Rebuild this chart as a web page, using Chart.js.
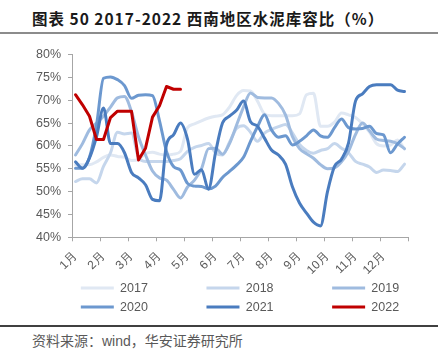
<!DOCTYPE html>
<html><head><meta charset="utf-8">
<script src="https://cdn.jsdelivr.net/npm/chart.js@4.4.1/dist/chart.umd.min.js"></script>
<style>
html,body{margin:0;padding:0;background:#fff;}
body{width:438px;height:363px;position:relative;overflow:hidden;font-family:"Liberation Sans",Arial,sans-serif;}
#title{position:absolute;left:32px;top:8px;font-weight:bold;font-size:15.5px;letter-spacing:1px;font-family:"Noto Sans CJK SC",sans-serif;color:#1a1a1a;white-space:nowrap;line-height:20px;}
#rule1{position:absolute;left:0;top:32px;width:438px;height:2px;background:#8c8c8c;}
#wrap{position:absolute;left:0;top:40px;width:438px;height:284px;}
#rule2{position:absolute;left:0;top:325px;width:438px;height:1.5px;background:#404040;}
#src{position:absolute;left:32px;top:332px;font-size:14px;color:#595959;white-space:nowrap;line-height:18px;font-family:"Liberation Sans","Noto Sans CJK SC",sans-serif;}
</style></head>
<body>
<div id="title">图表 50 2017-2022 西南地区水泥库容比（%）</div>
<div id="rule1"></div>
<div id="wrap"><canvas id="c"></canvas></div>
<div id="rule2"></div>
<div id="src">资料来源：wind，华安证券研究所</div>
<script>
// ---- data ----
const MONTHS = ['1月','2月','3月','4月','5月','6月','7月','8月','9月','10月','11月','12月'];
const YEARS = ['2017','2018','2019','2020','2021','2022'];
const WEEKS_PER_MONTH = 4;
const Y_MIN = 40, Y_MAX = 80, Y_STEP = 5;

const s2017 = [55.9,55.9,55.9,56.5,57.5,58.0,57.7,57.5,56.8,57.0,58.3,58.6,58.2,58.0,58.2,58.8,64.0,64.8,65.5,66.1,66.5,66.8,68.5,71.0,72.1,72.0,69.8,67.0,66.6,66.6,66.6,66.6,67.0,71.2,71.5,64.3,64.3,65.2,67.2,66.8,66.2,64.8,63.0,60.5,60.0,60.2,61.3,59.3];
const s2018 = [52.2,52.8,52.8,51.9,55.5,58.5,63.0,62.6,62.8,57.5,56.6,56.6,56.6,56.6,56.8,57.2,58.8,59.7,60.1,60.5,58.5,58.0,60.8,63.8,64.4,63.0,61.0,62.8,63.6,64.2,64.7,62.8,60.3,59.0,58.4,59.0,59.4,60.5,59.5,58.5,56.6,56.0,55.4,54.2,54.7,54.6,54.4,56.0];
const s2019 = [58.0,60.5,63.5,65.0,66.5,68.5,70.5,70.8,67.5,62.0,58.0,54.5,53.0,52.5,50.5,48.6,51.0,52.5,55.0,59.4,59.5,58.2,60.5,64.5,68.5,71.6,70.6,70.5,70.5,69.3,66.8,62.0,59.4,58.3,57.3,55.9,55.0,55.2,56.5,58.8,62.5,65.0,63.3,61.5,61.2,61.0,60.5,59.4];
const s2020 = [55.1,55.1,57.5,64.5,74.8,75.1,74.5,73.2,70.4,71.1,71.2,71.0,65.5,58.8,55.5,54.7,51.8,51.2,51.1,50.6,51.2,53.1,54.4,55.8,57.5,61.0,64.2,66.8,63.5,61.9,62.2,60.2,61.0,62.2,63.5,62.2,61.9,64.0,65.9,64.0,63.7,63.8,64.3,62.7,62.4,58.5,60.4,61.9];
const s2021 = [56.5,55.1,57.4,62.0,68.3,60.5,60.5,58.5,54.2,53.0,51.5,48.3,48.0,60.3,62.4,65.0,61.5,53.8,54.8,50.5,58.5,65.0,66.5,67.8,69.8,65.3,64.3,61.7,59.1,58.0,56.0,51.0,47.5,45.3,43.3,42.5,50.0,55.5,57.1,60.6,69.8,71.4,73.0,73.4,73.4,73.4,72.2,71.9];
const s2022 = [71.2,69.0,66.5,61.4,61.4,66.2,67.6,67.6,67.6,56.9,59.5,66.3,68.8,73.0,72.4,72.4];

const SERIES = [s2017, s2018, s2019, s2020, s2021, s2022];
const COLORS = ['#e0e8f3','#c5d6ec','#9fbbdf','#6c98cf','#4a7cbf','#c00000'];

const toPoints = arr => arr.map((v, i) => ({x: (i + 0.5) / WEEKS_PER_MONTH, y: v}));

const datasets = SERIES.map((s, k) => ({
  label: YEARS[k],
  data: toPoints(s),
  borderColor: COLORS[k],
  backgroundColor: COLORS[k],
  borderWidth: 3,
  pointRadius: 0,
  pointHoverRadius: 0,
  tension: k === 5 ? 0 : 0.4,
  cubicInterpolationMode: k === 5 ? 'default' : 'monotone',
  borderJoinStyle: 'round',
  borderCapStyle: 'round',
  fill: false,
  order: SERIES.length - k
}));

const FONT = '"Liberation Sans", Arial, sans-serif';
const GRAY = '#595959';
const AXIS = '#a6a6a6';

new Chart(document.getElementById('c'), {
  type: 'line',
  data: { datasets },
  options: {
    responsive: true,
    maintainAspectRatio: false,
    animation: false,
    devicePixelRatio: 1,
    layout: { padding: { top: 10.7, right: 30, bottom: 0.7, left: 0 } },
    plugins: {
      tooltip: { enabled: false },
      legend: {
        position: 'bottom',
        fullSize: false,
        labels: {
          boxWidth: 33,
          boxHeight: 3,
          padding: 6.5,
          color: GRAY,
          font: { size: 12.5, family: FONT },
          sort: (a, b) => a.datasetIndex - b.datasetIndex,
          generateLabels(chart) {
            const items = Chart.defaults.plugins.legend.labels.generateLabels(chart);
            items.forEach(it => {
              it.lineWidth = 0;
              it.fillStyle = COLORS[it.datasetIndex];
              if (it.datasetIndex % 3 !== 2) it.text = it.text + ' '.repeat(15);
            });
            return items;
          }
        }
      }
    },
    scales: {
      x: {
        type: 'linear',
        min: 0, max: 12,
        afterFit: s => { s.height = 38; },
        border: { display: true, color: AXIS, width: 1 },
        grid: { drawOnChartArea: false, drawTicks: true, tickLength: 4, color: AXIS },
        ticks: {
          stepSize: 1,
          autoSkip: false,
          maxRotation: 45, minRotation: 45,
          color: GRAY,
          font: { size: 12, family: FONT },
          padding: 8,
          labelOffset: 3,
          callback: v => (v >= 0 && v < MONTHS.length && Number.isInteger(v)) ? MONTHS[v] : ''
        }
      },
      y: {
        min: Y_MIN, max: Y_MAX,
        afterFit: s => { s.width = 72; },
        border: { display: true, color: AXIS, width: 1 },
        grid: { drawOnChartArea: false, drawTicks: true, tickLength: 4, color: AXIS },
        ticks: {
          stepSize: Y_STEP,
          color: GRAY,
          padding: 7,
          font: { size: 12.5, family: FONT },
          callback: v => v + '%'
        }
      }
    }
  }
});
</script>
</body></html>
